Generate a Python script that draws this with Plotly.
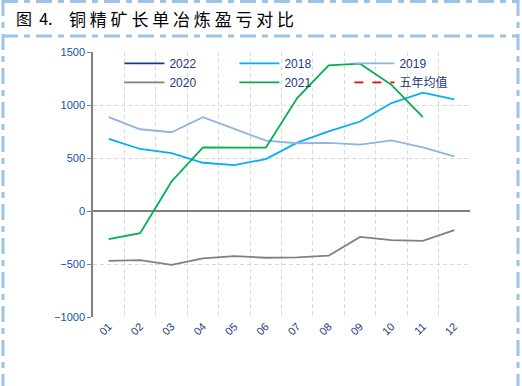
import plotly.graph_objects as go

months = ["01", "02", "03", "04", "05", "06", "07", "08", "09", "10", "11", "12"]
s2022 = [None] * 12
s2018 = [680, 585, 547, 455, 433, 490, 645, 752, 844, 1018, 1117, 1053]
s2019 = [885, 771, 743, 885, 775, 664, 639, 642, 626, 667, 601, 515]
s2020 = [-470, -463, -509, -447, -425, -441, -437, -422, -244, -275, -281, -181]
s2021 = [-265, -209, 279, 600, 598, 597, 1065, 1373, 1390, 1190, 885, None]
avg5 = [None] * 12

W, H = 522, 386
L, R, T, B = 93, 52, 52, 69
PW, PH = W - L - R, H - T - B

def px(x):
    return (x - L) / PW

def py(y):
    return 1 - (y - T) / PH

fig = go.Figure()
series = [
    ("2022", s2022, "#1F3A7A", "solid"),
    ("2018", s2018, "#00B0F0", "solid"),
    ("2019", s2019, "#8EB4E3", "solid"),
    ("2020", s2020, "#808080", "solid"),
    ("2021", s2021, "#00B050", "solid"),
    ("五年均值", avg5, "#FF0000", "dash"),
]
for name, vals, col, dash in series:
    fig.add_trace(go.Scatter(x=months, y=vals, name=name, mode="lines",
                             line=dict(color=col, width=1.8, dash=dash)))

border = dict(color="#9DC3E6", width=3, dash="16px,6px,6px,6px")
shapes = [
    dict(type="line", xref="paper", yref="paper", x0=px(2), x1=px(519), y0=py(1.5), y1=py(1.5), line=border),
    dict(type="line", xref="paper", yref="paper", x0=px(2), x1=px(519), y0=py(36), y1=py(36), line=border),
    dict(type="line", xref="paper", yref="paper", x0=px(3), x1=px(3), y0=py(0), y1=py(386), line=border),
    dict(type="line", xref="paper", yref="paper", x0=px(518), x1=px(518), y0=py(0), y1=py(386), line=border),
]

title_font = dict(family="Noto Sans CJK SC", size=16, color="#000000")
title_font2 = dict(family="Noto Sans CJK SC", size=17, color="#000000")
fig.update_layout(
    width=W, height=H,
    margin=dict(l=L, r=R, t=T, b=B),
    paper_bgcolor="white", plot_bgcolor="white",
    font=dict(family="Liberation Sans, Arial, sans-serif", size=11, color="#1F3A7A"),
    shapes=shapes,
    showlegend=True,
    legend=dict(orientation="h", x=0.07, y=1.012, xanchor="left", yanchor="top",
                entrywidth=60, entrywidthmode="pixels", bgcolor="rgba(0,0,0,0)",
                font=dict(size=12, color="#1F3A7A", family="Liberation Sans, Noto Sans CJK SC, sans-serif"),
                tracegroupgap=0, itemwidth=40),
    annotations=[
        dict(text="图  4.", xref="paper", yref="paper",
             x=px(14), y=py(18), xanchor="left", yanchor="middle", showarrow=False, font=title_font),
        dict(text="铜 精 矿 长 单 冶 炼 盈 亏 对 比", xref="paper", yref="paper",
             x=px(67), y=py(18), xanchor="left", yanchor="middle", showarrow=False, font=title_font2),
    ],
)
fig.update_xaxes(type="category", range=[-0.5, 11.5], tickson="boundaries",
                 showgrid=True, gridcolor="#D9D9D9", griddash="4px,3px", gridwidth=1,
                 showline=False, ticks="", tickangle=-45,
                 tickfont=dict(size=11, color="#1F3A7A"), zeroline=False)
fig.update_yaxes(range=[-1000, 1500], dtick=500, showgrid=True, gridcolor="#D9D9D9",
                 griddash="4px,3px", gridwidth=1, showline=True, linecolor="#808080",
                 linewidth=1.5, ticks="outside", ticklen=4, tickcolor="#808080",
                 zeroline=True, zerolinecolor="#808080", zerolinewidth=1.5,
                 tickfont=dict(size=11, color="#2050A8"), tickformat="d")

fig.write_html("out.html", config={"displayModeBar": False},
               post_script="document.body.style.margin='0';document.body.style.padding='0';")
